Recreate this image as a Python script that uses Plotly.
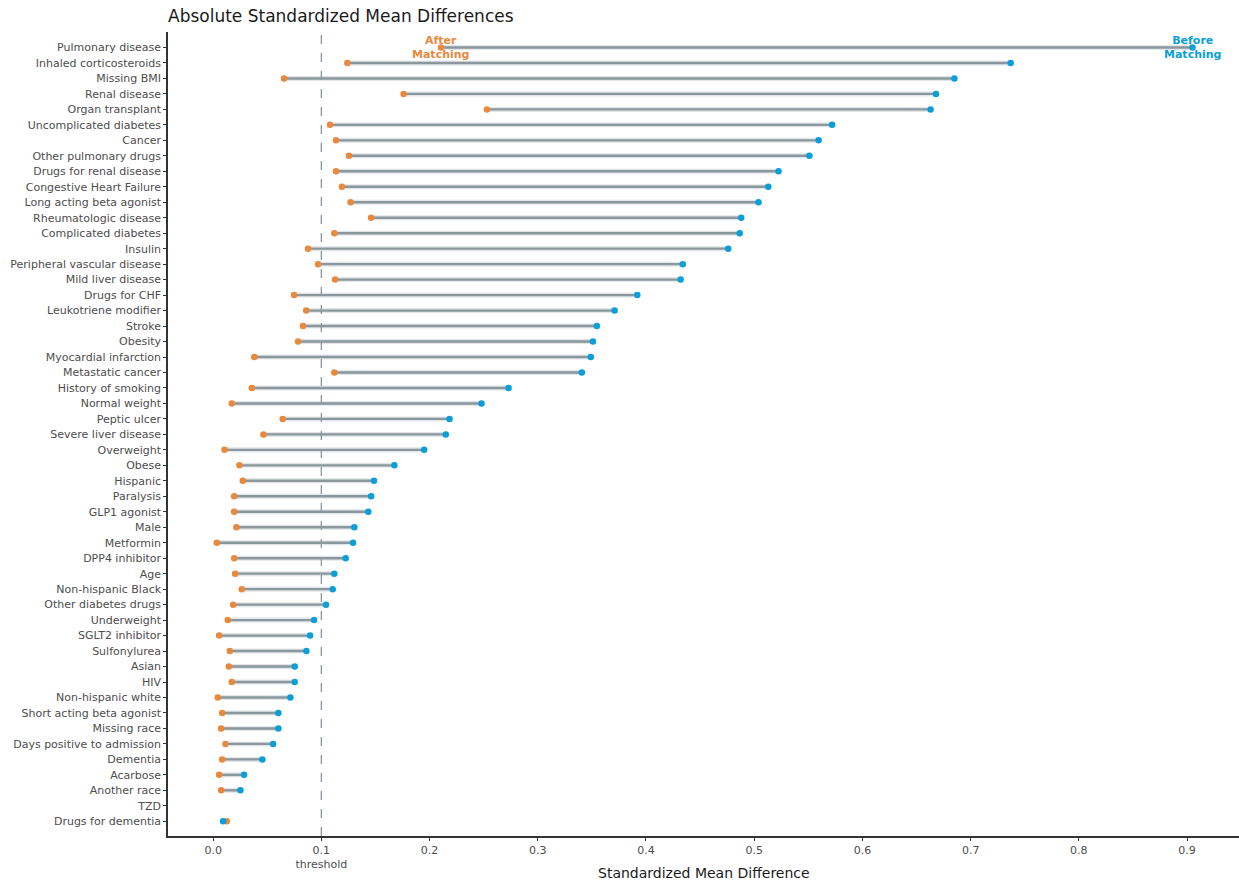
import plotly.graph_objects as go

covariates = [
    "Pulmonary disease", "Inhaled corticosteroids", "Missing BMI", "Renal disease",
    "Organ transplant", "Uncomplicated diabetes", "Cancer", "Other pulmonary drugs",
    "Drugs for renal disease", "Congestive Heart Failure", "Long acting beta agonist",
    "Rheumatologic disease", "Complicated diabetes", "Insulin", "Peripheral vascular disease",
    "Mild liver disease", "Drugs for CHF", "Leukotriene modifier", "Stroke", "Obesity",
    "Myocardial infarction", "Metastatic cancer", "History of smoking", "Normal weight",
    "Peptic ulcer", "Severe liver disease", "Overweight", "Obese", "Hispanic", "Paralysis",
    "GLP1 agonist", "Male", "Metformin", "DPP4 inhibitor", "Age", "Non-hispanic Black",
    "Other diabetes drugs", "Underweight", "SGLT2 inhibitor", "Sulfonylurea", "Asian", "HIV",
    "Non-hispanic white", "Short acting beta agonist", "Missing race",
    "Days positive to admission", "Dementia", "Acarbose", "Another race", "TZD",
    "Drugs for dementia",
]

smd_before = [
    0.905, 0.737, 0.685, 0.668, 0.663, 0.572, 0.5595, 0.551, 0.5225, 0.513, 0.504,
    0.488, 0.4866, 0.476, 0.434, 0.432, 0.392, 0.371, 0.3546, 0.351, 0.349, 0.3407,
    0.273, 0.248, 0.2185, 0.215, 0.195, 0.1675, 0.1487, 0.146, 0.1434, 0.1305, 0.1293,
    0.1225, 0.112, 0.1105, 0.1043, 0.0933, 0.0896, 0.0862, 0.0754, 0.0754, 0.0714,
    0.0603, 0.0603, 0.0554, 0.0455, 0.0286, 0.0252, None, 0.0092,
]

smd_after = [
    0.2105, 0.124, 0.0655, 0.176, 0.253, 0.108, 0.1135, 0.1255, 0.1135, 0.119, 0.127,
    0.146, 0.112, 0.0877, 0.097, 0.1127, 0.0748, 0.086, 0.083, 0.0785, 0.038, 0.112,
    0.0357, 0.0172, 0.0643, 0.0465, 0.0105, 0.0243, 0.0274, 0.0194, 0.0194, 0.0215,
    0.0034, 0.0194, 0.0203, 0.0265, 0.0185, 0.0135, 0.0055, 0.0154, 0.0145, 0.0172,
    0.0043, 0.0083, 0.0074, 0.0114, 0.0083, 0.0055, 0.0074, None, 0.0126,
]

threshold = 0.1
x_ticks = [0.0, 0.1, 0.2, 0.3, 0.4, 0.5, 0.6, 0.7, 0.8, 0.9]
x_ticktext = ["0.0", "0.1<br>threshold", "0.2", "0.3", "0.4", "0.5", "0.6", "0.7", "0.8", "0.9"]

ORANGE = "#E8893C"
BLUE = "#0A9FD8"
SEGMENT = "#8A979E"
FONT = "DejaVu Sans"

W, H = 1239, 886
M_L, M_R, M_T, M_B = 168, 0, 32, 50

# bottom-to-top order for a numeric y axis
n = len(covariates)
ypos = {c: n - 1 - i for i, c in enumerate(covariates)}

seg_x, seg_y = [], []
for c, b, a in zip(covariates, smd_before, smd_after):
    if b is None or a is None:
        continue
    seg_x += [a, b, None]
    seg_y += [ypos[c], ypos[c], None]

fig = go.Figure()

# soft halo under each connecting segment
fig.add_trace(go.Scatter(
    x=seg_x, y=seg_y, mode="lines",
    line=dict(color="rgba(138,151,158,0.25)", width=5),
    hoverinfo="skip", showlegend=False,
))
fig.add_trace(go.Scatter(
    x=seg_x, y=seg_y, mode="lines",
    line=dict(color=SEGMENT, width=2.4),
    hoverinfo="skip", showlegend=False,
))

after_pts = [(a, ypos[c]) for c, a in zip(covariates, smd_after) if a is not None]
before_pts = [(b, ypos[c]) for c, b in zip(covariates, smd_before) if b is not None]

fig.add_trace(go.Scatter(
    x=[p[0] for p in after_pts], y=[p[1] for p in after_pts], mode="markers",
    marker=dict(color=ORANGE, size=6.5, line=dict(width=0)),
    name="After Matching", showlegend=False,
))
fig.add_trace(go.Scatter(
    x=[p[0] for p in before_pts], y=[p[1] for p in before_pts], mode="markers",
    marker=dict(color=BLUE, size=6.5, line=dict(width=0)),
    name="Before Matching", showlegend=False,
))

# threshold reference line
fig.add_shape(
    type="line", xref="x", yref="paper", x0=threshold, x1=threshold, y0=0, y1=1,
    line=dict(color="#8A979E", width=1.3, dash="dash"), layer="below",
)

top = covariates[0]
fig.add_annotation(
    x=smd_after[0], y=ypos[top], text="<b>After<br>Matching</b>", showarrow=False,
    font=dict(family=FONT, size=11, color=ORANGE), xanchor="center", yanchor="middle",
    align="center",
)
fig.add_annotation(
    x=smd_before[0], y=ypos[top], text="<b>Before<br>Matching</b>", showarrow=False,
    font=dict(family=FONT, size=11, color=BLUE), xanchor="center", yanchor="middle",
    align="center",
)

# x-axis title placed beneath the two-line tick labels
plot_h = H - M_T - M_B
fig.add_annotation(
    xref="paper", yref="paper", x=0.5, y=-(873 - (H - M_B)) / plot_h,
    text="Standardized Mean Difference", showarrow=False,
    font=dict(family=FONT, size=14, color="#1A1A1A"),
    xanchor="center", yanchor="middle",
)

fig.update_layout(
    width=W, height=H,
    margin=dict(l=M_L, r=M_R, t=M_T, b=M_B),
    paper_bgcolor="white", plot_bgcolor="white",
    font=dict(family=FONT, color="#4D4D4D"),
    title=dict(
        text="Absolute Standardized Mean Differences",
        x=M_L / W, xanchor="left", y=1 - 16 / H, yanchor="middle",
        font=dict(family=FONT, size=17, color="#1A1A1A"),
    ),
    xaxis=dict(
        range=[-0.0417, 0.948],
        tickvals=x_ticks, ticktext=x_ticktext,
        showgrid=False, zeroline=False,
        showline=True, linecolor="#333333", linewidth=1.5,
        ticks="outside", ticklen=3, tickcolor="#333333", tickwidth=1,
        tickfont=dict(family=FONT, size=11, color="#4D4D4D"),
        automargin=False,
    ),
    yaxis=dict(
        range=[-0.95, n - 1 + 1.0],
        tickvals=[ypos[c] for c in covariates], ticktext=covariates,
        showgrid=False, zeroline=False,
        showline=True, linecolor="#333333", linewidth=1.5,
        ticks="outside", ticklen=3, tickcolor="#333333", tickwidth=1,
        tickfont=dict(family=FONT, size=11, color="#4D4D4D"),
        automargin=False,
    ),
)

fig.write_html("out.html")
